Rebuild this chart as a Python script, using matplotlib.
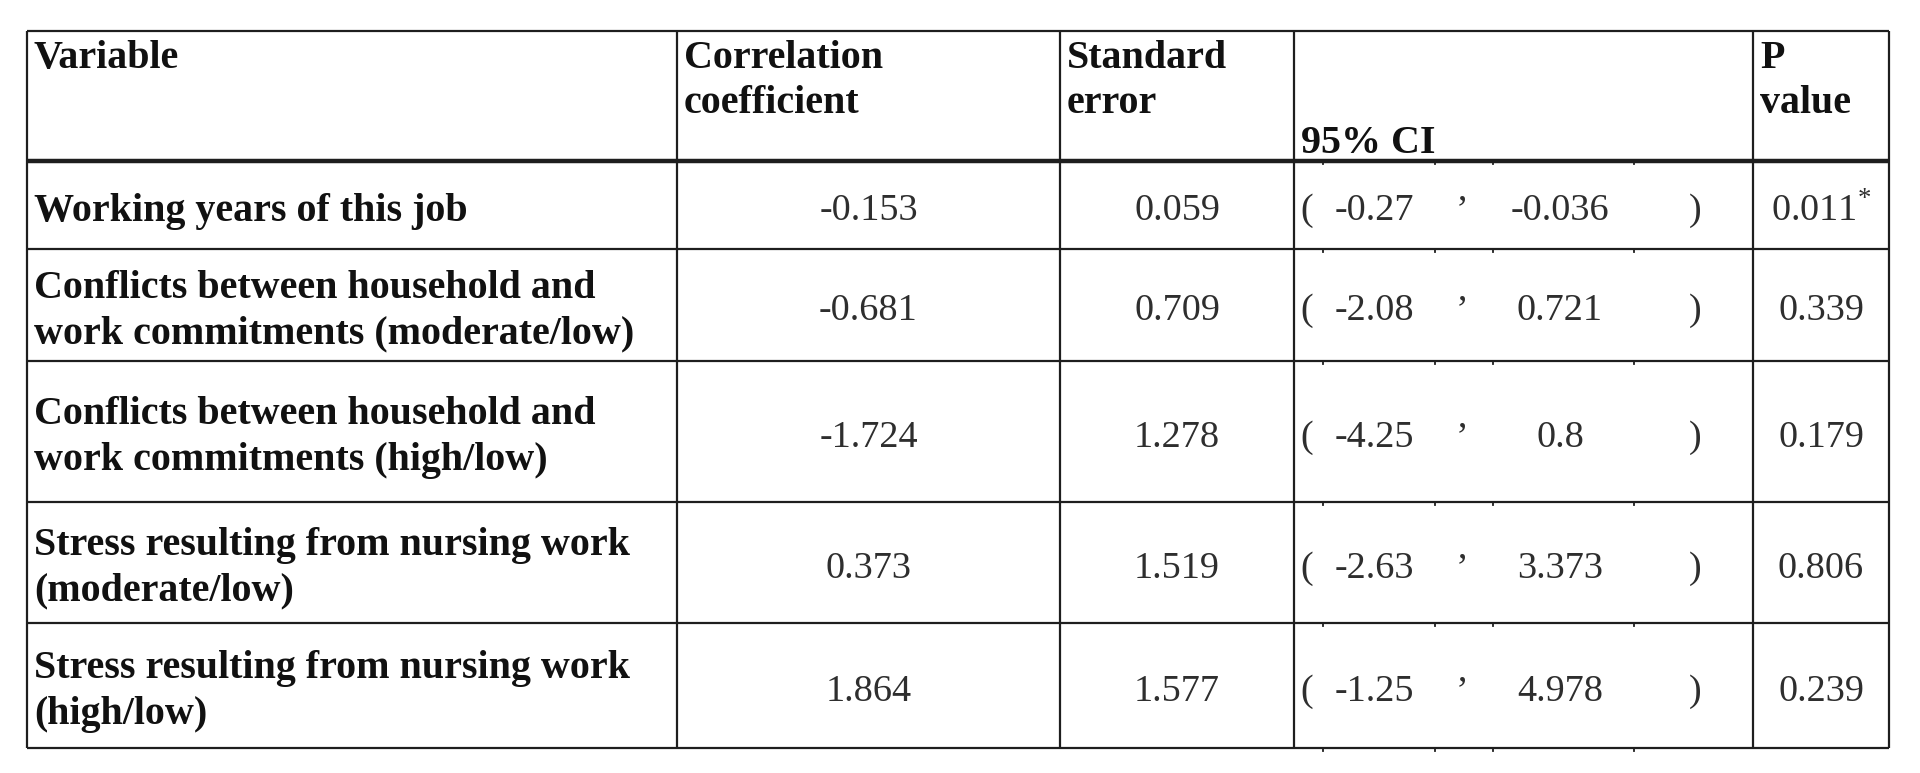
import matplotlib
matplotlib.use("Agg")
import matplotlib.pyplot as plt

# table contents
variables = [
    "Working years of this job",
    "Conflicts between household and\nwork commitments (moderate/low)",
    "Conflicts between household and\nwork commitments (high/low)",
    "Stress resulting from nursing work\n(moderate/low)",
    "Stress resulting from nursing work\n(high/low)",
]
coef = [-0.153, -0.681, -1.724, 0.373, 1.864]
std_err = [0.059, 0.709, 1.278, 1.519, 1.577]
ci_low = [-0.27, -2.08, -4.25, -2.63, -1.25]
ci_high = [-0.036, 0.721, 0.8, 3.373, 4.978]
p_value = [0.011, 0.339, 0.179, 0.806, 0.239]

headers = ["Variable", "Correlation\ncoefficient", "Standard\nerror", "95% CI", "P\nvalue"]

plt.rcParams["mathtext.fontset"] = "custom"
plt.rcParams["mathtext.rm"] = "Liberation Serif"

W, H = 1920, 773
fig = plt.figure(figsize=(W / 100, H / 100), dpi=100)
ax = fig.add_axes([0, 0, 1, 1])
ax.set_xlim(0, W)
ax.set_ylim(H, 0)
ax.axis("off")

# grid geometry in pixels
col_x = [27, 677, 1060, 1294, 1753, 1889]
row_y = [31, 161, 249, 361, 502, 623, 748]
line_c = "#1e1e1e"

# horizontal rules
for i, y in enumerate(row_y):
    lw = 3.2 if i == 1 else 1.6
    ax.plot([col_x[0], col_x[-1]], [y, y], color=line_c, lw=lw, solid_capstyle="butt")
# vertical rules
for x in col_x:
    ax.plot([x, x], [row_y[0], row_y[-1]], color=line_c, lw=1.6, solid_capstyle="butt")

# little leftover cell-border ticks inside the CI column
for y in row_y[1:]:
    for tx in [1323, 1435, 1493, 1634]:
        ax.plot([tx, tx], [y, y + 3], color=line_c, lw=1.3)

bold = dict(family="Liberation Serif", fontweight="bold", fontsize=28.8, color="#111111")
num = dict(family="Liberation Serif", fontsize=27.5, color="#2e2e2e")

# header
for j, h in enumerate(headers):
    if h == "95% CI":
        ax.text(col_x[j] + 7, 153, h, ha="left", va="baseline", **bold)
    else:
        ax.text(col_x[j] + 7, 40, h, ha="left", va="top", linespacing=1.28, **bold)

# body
for i in range(len(variables)):
    yc = (row_y[i + 1] + row_y[i + 2]) / 2
    yn = yc + 6
    ax.text(col_x[0] + 7, yc + 6, variables[i], ha="left", va="center",
            linespacing=1.3, **bold)
    ax.text((col_x[1] + col_x[2]) / 2, yn, f"{coef[i]:g}", ha="center", va="center", **num)
    ax.text((col_x[2] + col_x[3]) / 2, yn, f"{std_err[i]:g}", ha="center", va="center", **num)
    ax.text(1307, yn, "(", ha="center", va="center", **num)
    ax.text(1374, yn, f"{ci_low[i]:g}", ha="center", va="center", **num)
    ax.text(1462, yn, "\u2019", ha="center", va="center", **num)
    ax.text(1560, yn, f"{ci_high[i]:g}", ha="center", va="center", **num)
    ax.text(1695, yn, ")", ha="center", va="center", **num)
    p_txt = f"{p_value[i]:g}"
    if p_value[i] < 0.05:
        p_txt += r"$^{*}$"
    ax.text((col_x[4] + col_x[5]) / 2, yn, p_txt, ha="center", va="center", **num)

fig.savefig("out.png", dpi=100, facecolor="white")
